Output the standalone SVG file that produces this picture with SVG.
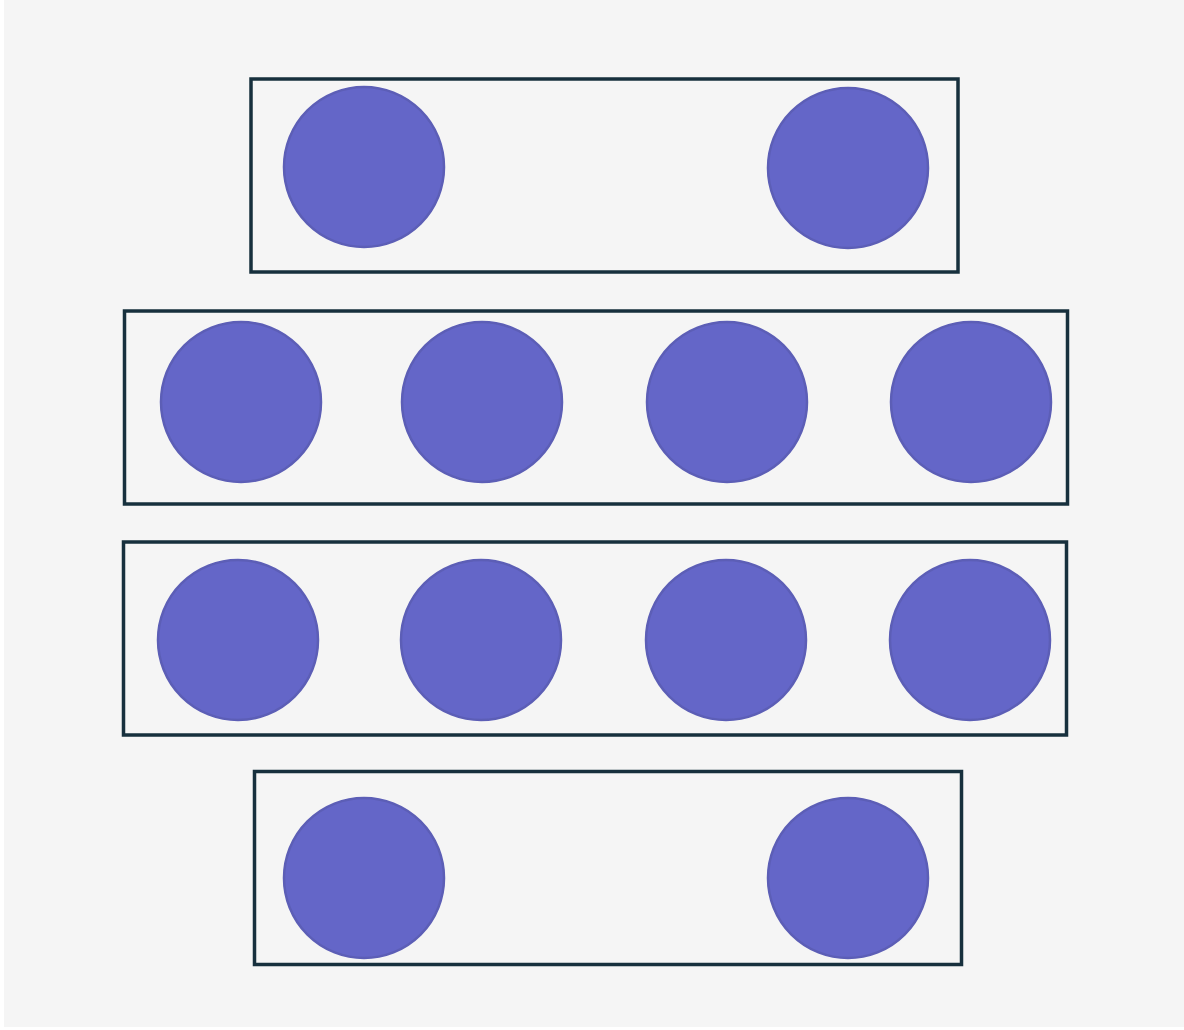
<svg xmlns="http://www.w3.org/2000/svg" width="1184" height="1030" viewBox="0 0 1184 1030">
<style>
.box{fill:none;stroke:#17303d;stroke-width:3.5}
.dot{fill:#6466c8;stroke:#5c5eb6;stroke-width:2.5}
</style>
<rect x="0" y="0" width="1184" height="1030" fill="#ffffff"/>
<rect x="4" y="0" width="1180" height="1027" fill="#f5f5f5"/>
<g id="row1">
<rect class="box" x="251" y="79" width="707" height="193"/>
<circle class="dot" cx="364" cy="167" r="80"/>
<circle class="dot" cx="848" cy="168" r="80"/>
</g>
<g id="row2">
<rect class="box" x="124.5" y="311" width="943" height="193"/>
<circle class="dot" cx="241" cy="402" r="80"/>
<circle class="dot" cx="482" cy="402" r="80"/>
<circle class="dot" cx="727" cy="402" r="80"/>
<circle class="dot" cx="971" cy="402" r="80"/>
</g>
<g id="row3">
<rect class="box" x="123.5" y="542" width="943" height="193"/>
<circle class="dot" cx="238" cy="640" r="80"/>
<circle class="dot" cx="481" cy="640" r="80"/>
<circle class="dot" cx="726" cy="640" r="80"/>
<circle class="dot" cx="970" cy="640" r="80"/>
</g>
<g id="row4">
<rect class="box" x="254.5" y="771.5" width="707" height="193"/>
<circle class="dot" cx="364" cy="878" r="80"/>
<circle class="dot" cx="848" cy="878" r="80"/>
</g>
<g id="connectors"></g>
</svg>
